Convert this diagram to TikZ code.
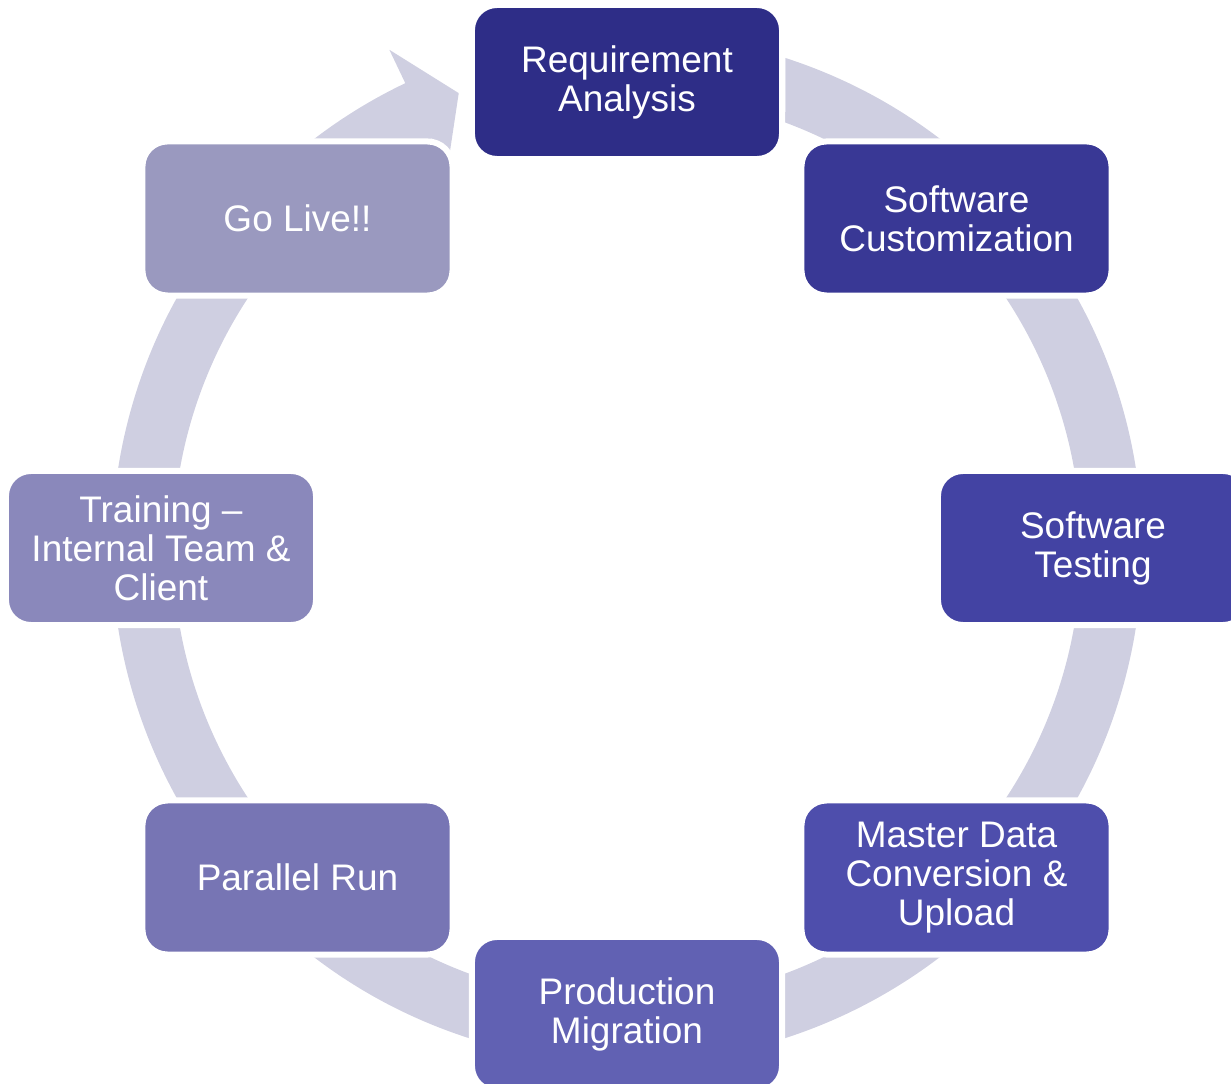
\documentclass[tikz,border=0pt]{standalone}
\usepackage{fontspec}
\setmainfont{Liberation Sans}
\definecolor{ringcol}{HTML}{CFCFE1}
\definecolor{phaseA}{HTML}{2E2D87}
\definecolor{phaseB}{HTML}{393895}
\definecolor{phaseC}{HTML}{4343A3}
\definecolor{phaseD}{HTML}{4E4EAC}
\definecolor{phaseE}{HTML}{6161B3}
\definecolor{phaseF}{HTML}{7775B4}
\definecolor{phaseG}{HTML}{8A88BB}
\definecolor{phaseH}{HTML}{9A99BF}

\begin{document}
\begin{tikzpicture}[x=0.025cm,y=0.025cm,
    phase/.style={rectangle,rounded corners=0.625cm,draw=white,line width=0.15cm,
      minimum width=7.75cm,minimum height=3.85cm,inner sep=0pt,align=center,
      text=white,font=\fontsize{26.3}{27.7}\selectfont}]
        \useasboundingbox (-627,-536) rectangle (604,548);
        \fill[ringcol] (72.1:515) arc[start angle=72.1,end angle=-244.5,radius=515]
          -- (115.5:552) -- (110.3:485) -- (115.5:418) -- (115.5:454)
          arc[start angle=-244.5,end angle=69.6,radius=454] -- cycle;
        \node [phase,fill=phaseA] (req) at (90:466) {Requirement\\Analysis};
        \node [phase,fill=phaseB] (cust) at (45:466) {Software\\Customization};
        \node [phase,fill=phaseC] (test) at (0:466) {Software\\Testing};
        \node [phase,fill=phaseD] (data) at (-45:466) {Master Data\\Conversion \&\\Upload};
        \node [phase,fill=phaseE] (prod) at (-90:466) {Production\\Migration};
        \node [phase,fill=phaseF] (par) at (-135:466) {Parallel Run};
        \node [phase,fill=phaseG] (train) at (180:466) {Training –\\Internal Team \&\\Client};
        \node [phase,fill=phaseH] (live) at (135:466) {Go Live!!};
      \end{tikzpicture}
\end{document}
